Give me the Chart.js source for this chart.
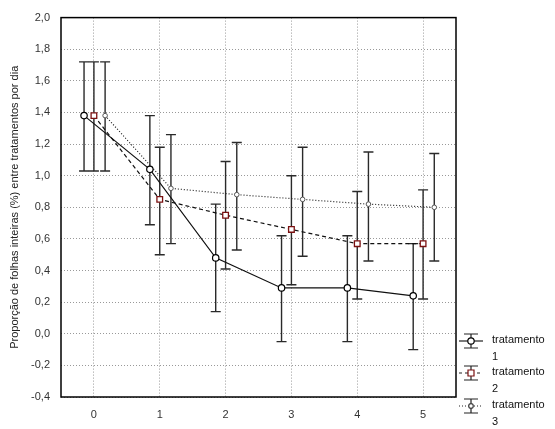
<!DOCTYPE html>
<html>
<head>
<meta charset="utf-8">
<script src="https://cdn.jsdelivr.net/npm/chart.js@4"></script>
<style>
  html, body { margin: 0; padding: 0; background: #fff; }
  #chart-container { width: 555px; height: 429px; position: relative; }
</style>
</head>
<body>
<div id="chart-container"><canvas id="myChart"></canvas></div>
<script>
// days
var dias = [0, 1, 2, 3, 4, 5];
var yTicks = [-0.4, -0.2, 0, 0.2, 0.4, 0.6, 0.8, 1.0, 1.2, 1.4, 1.6, 1.8, 2.0];

// means
var trat1 = [1.38, 1.04, 0.48, 0.29, 0.29, 0.24];
var trat2 = [1.38, 0.85, 0.75, 0.66, 0.57, 0.57];
var trat3 = [1.38, 0.92, 0.88, 0.85, 0.82, 0.80];

// error bar limits
var trat1Sup = [1.72, 1.38, 0.82, 0.62, 0.62, 0.57];
var trat1Inf = [1.03, 0.69, 0.14, -0.05, -0.05, -0.10];
var trat2Sup = [1.72, 1.18, 1.09, 1.00, 0.90, 0.91];
var trat2Inf = [1.03, 0.50, 0.41, 0.31, 0.22, 0.22];
var trat3Sup = [1.72, 1.26, 1.21, 1.18, 1.15, 1.14];
var trat3Inf = [1.03, 0.57, 0.53, 0.49, 0.46, 0.46];

var offsets = [-0.15, 0, 0.17];

function pts(vals, off) {
    var out = [];
    for (var i = 0; i < dias.length; i++) {
        out.push({ x: dias[i] + off, y: vals[i] });
    }
    return out;
}

var erros = [[trat1Inf, trat1Sup], [trat2Inf, trat2Sup], [trat3Inf, trat3Sup]];

var errorBars = {
    id: 'errorBars',
    beforeDatasetsDraw: function (chart) {
        var ctx = chart.ctx, xs = chart.scales.x, ys = chart.scales.y;
        ctx.save();
        ctx.strokeStyle = '#2a2a2a';
        ctx.lineWidth = 1.4;
        for (var d = 0; d < erros.length; d++) {
            for (var i = 0; i < dias.length; i++) {
                var px = xs.getPixelForValue(dias[i] + offsets[d]);
                var y1 = ys.getPixelForValue(erros[d][0][i]);
                var y2 = ys.getPixelForValue(erros[d][1][i]);
                ctx.beginPath();
                ctx.moveTo(px, y1); ctx.lineTo(px, y2);
                ctx.moveTo(px - 5, y1); ctx.lineTo(px + 5, y1);
                ctx.moveTo(px - 5, y2); ctx.lineTo(px + 5, y2);
                ctx.stroke();
            }
        }
        ctx.restore();
    },
    afterDraw: function (chart) {
        var ctx = chart.ctx, a = chart.chartArea;
        ctx.save();
        // frame
        ctx.strokeStyle = '#000';
        ctx.lineWidth = 1.5;
        ctx.strokeRect(a.left, a.top, a.right - a.left, a.bottom - a.top);
        // legend
        var rows = [341, 373, 406];
        var dash = [[], [3, 3], [1, 2]];
        var edge = ['#000', '#7a1010', '#444'];
        ctx.font = '11px "Liberation Sans", Arial, sans-serif';
        ctx.textBaseline = 'middle';
        for (var k = 0; k < 3; k++) {
            var cy = rows[k], cx = 471;
            ctx.strokeStyle = '#222';
            ctx.lineWidth = 1.2;
            ctx.setLineDash([]);
            ctx.beginPath();
            ctx.moveTo(cx, cy - 7); ctx.lineTo(cx, cy + 7);
            ctx.moveTo(cx - 7, cy - 7); ctx.lineTo(cx + 7, cy - 7);
            ctx.moveTo(cx - 7, cy + 7); ctx.lineTo(cx + 7, cy + 7);
            ctx.stroke();
            ctx.setLineDash(dash[k]);
            ctx.beginPath();
            ctx.moveTo(cx - 12, cy); ctx.lineTo(cx + 12, cy);
            ctx.stroke();
            ctx.setLineDash([]);
            ctx.fillStyle = '#fff';
            ctx.strokeStyle = edge[k];
            ctx.beginPath();
            if (k == 1) {
                ctx.rect(cx - 3, cy - 3, 6, 6);
            } else {
                ctx.arc(cx, cy, k == 0 ? 3.2 : 2.3, 0, Math.PI * 2);
            }
            ctx.fill(); ctx.stroke();
            ctx.fillStyle = '#111';
            ctx.fillText('tratamento', 492, cy - 1);
            ctx.fillText(String(k + 1), 492, cy + 16);
        }
        ctx.restore();
    }
};

var ctx = document.getElementById('myChart');
var myChart = new Chart(ctx, {
    type: 'line',
    data: {
        datasets: [{
            label: 'tratamento 1',
            data: pts(trat1, offsets[0]),
            borderColor: '#111',
            borderWidth: 1.2,
            pointStyle: 'circle',
            pointRadius: 3.2,
            pointBackgroundColor: '#fff',
            pointBorderColor: '#000',
            pointBorderWidth: 1.2,
            tension: 0
        }, {
            label: 'tratamento 2',
            data: pts(trat2, offsets[1]),
            borderColor: '#111',
            borderWidth: 1.2,
            borderDash: [4, 3],
            pointStyle: 'rect',
            pointRadius: 4,
            pointBackgroundColor: '#fff',
            pointBorderColor: '#7a1010',
            pointBorderWidth: 1.3,
            tension: 0
        }, {
            label: 'tratamento 3',
            data: pts(trat3, offsets[2]),
            borderColor: '#222',
            borderWidth: 1.2,
            borderDash: [1, 2],
            pointStyle: 'circle',
            pointRadius: 2.3,
            pointBackgroundColor: '#fff',
            pointBorderColor: '#555',
            pointBorderWidth: 1,
            tension: 0
        }]
    },
    options: {
        responsive: true,
        maintainAspectRatio: false,
        animation: false,
        layout: { padding: { left: 8, right: 99, top: 16, bottom: 0 } },
        plugins: {
            legend: { display: false },
            tooltip: { enabled: false }
        },
        scales: {
            x: {
                type: 'linear',
                min: -0.5,
                max: 5.5,
                afterBuildTicks: function (scale) {
                    scale.ticks = dias.map(function (v) { return { value: v }; });
                },
                afterFit: function (scale) { scale.height = 32; },
                grid: { color: '#999', drawTicks: false },
                border: { display: false, dash: [1, 2] },
                ticks: {
                    color: '#333',
                    padding: 11,
                    font: { family: '"Liberation Sans", Arial, sans-serif', size: 11 }
                }
            },
            y: {
                min: -0.4,
                max: 2.0,
                afterBuildTicks: function (scale) {
                    scale.ticks = yTicks.map(function (v) { return { value: v }; });
                },
                afterFit: function (scale) { scale.width = 53; },
                grid: { color: '#999', drawTicks: false },
                border: { display: false, dash: [1, 2] },
                ticks: {
                    color: '#333',
                    padding: 11,
                    font: { family: '"Liberation Sans", Arial, sans-serif', size: 11 },
                    callback: function (v) {
                        if (Math.abs(v) < 1e-9) v = 0;
                        return v.toFixed(1).replace('.', ',');
                    }
                },
                title: {
                    display: true,
                    text: 'Proporção de folhas inteiras (%) entre tratamentos por dia',
                    color: '#222',
                    padding: 0,
                    font: { family: '"Liberation Sans", Arial, sans-serif', size: 11 }
                }
            }
        }
    },
    plugins: [errorBars]
});
</script>
</body>
</html>
